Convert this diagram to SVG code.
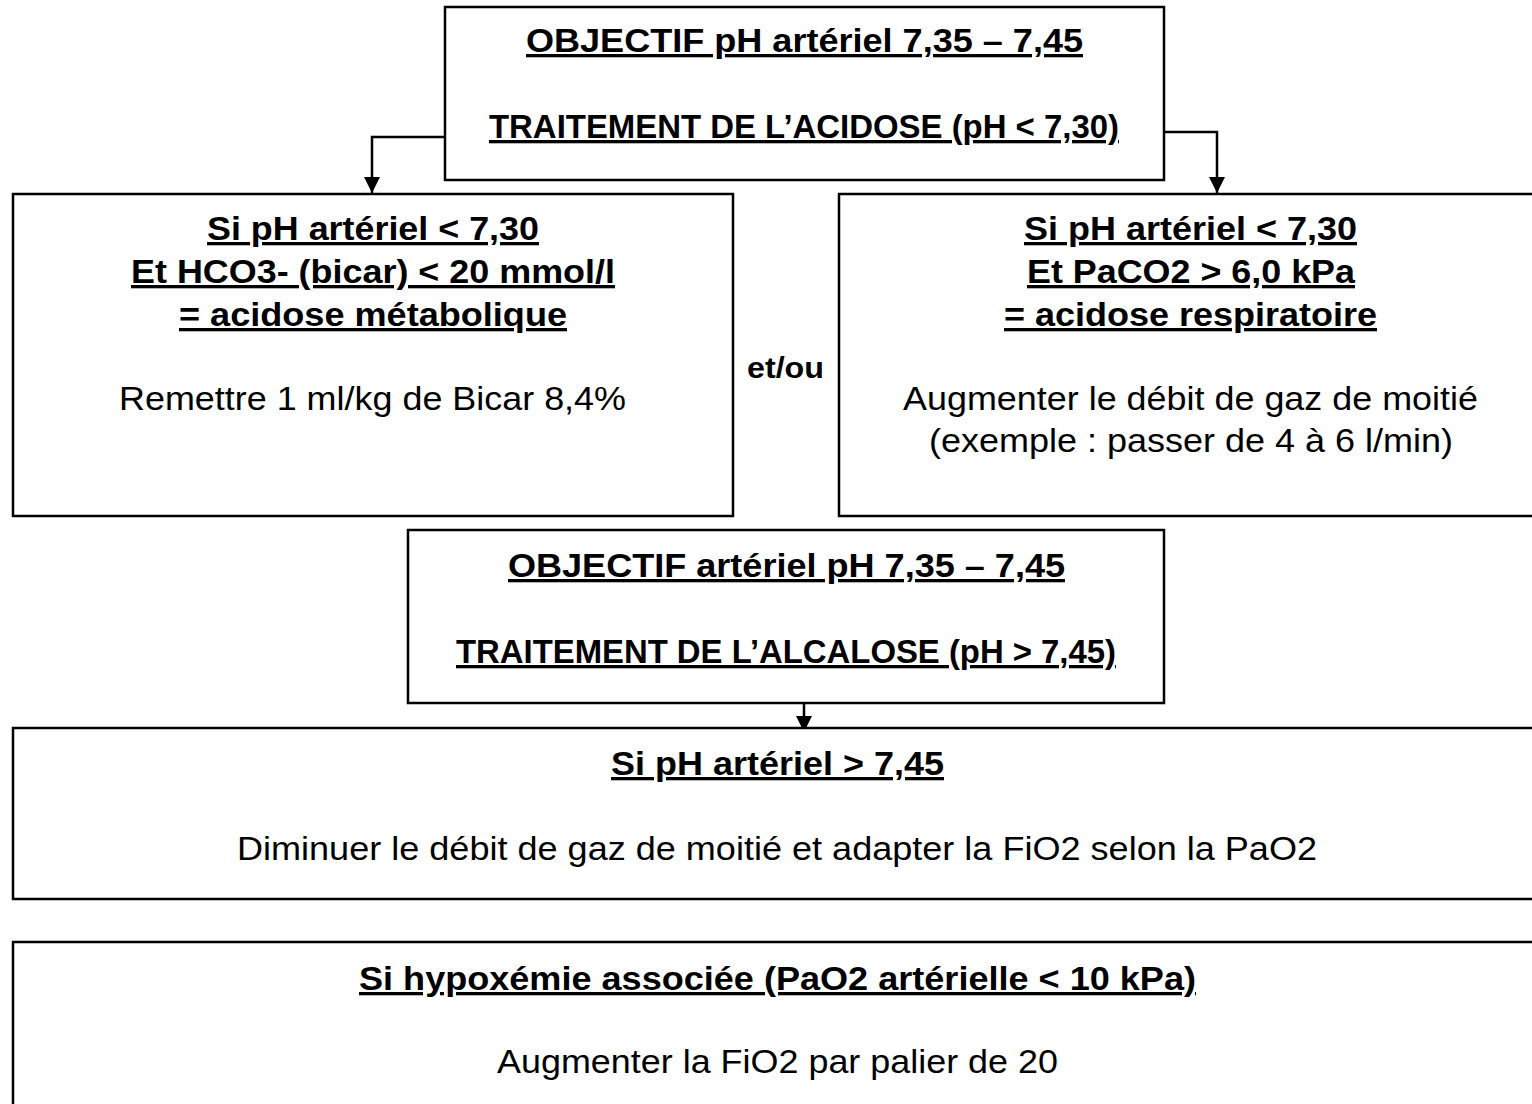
<svg xmlns="http://www.w3.org/2000/svg" width="1532" height="1104" viewBox="0 0 1532 1104">
<defs>
<marker id="ah" viewBox="0 0 10 10" refX="10" refY="5" markerWidth="16" markerHeight="16" markerUnits="userSpaceOnUse" orient="auto">
<path d="M0,0 L10,5 L0,10 z" fill="#000"/>
</marker>
<style>
.box{fill:#fff;stroke:#000;stroke-width:2.5}
.h{font-family:"Liberation Sans",Arial,sans-serif;font-weight:bold;font-size:33px;text-decoration:underline;text-anchor:middle;fill:#000}
.t{font-family:"Liberation Sans",Arial,sans-serif;font-size:33px;text-anchor:middle;fill:#000}
.b{font-family:"Liberation Sans",Arial,sans-serif;font-weight:bold;font-size:30px;text-anchor:middle;fill:#000}
.c{fill:none;stroke:#000;stroke-width:2.5}
</style>
</defs>
<rect width="1532" height="1104" fill="#fff"/>
<g id="connectors">
<path class="c" d="M445,137 H372 V193" marker-end="url(#ah)"/>
<path class="c" d="M1164,132 H1217 V193" marker-end="url(#ah)"/>
<path class="c" d="M804,691 V732" marker-end="url(#ah)"/>
</g>
<g id="acidose">
<rect class="box" x="445" y="7" width="719" height="173"/>
<text class="h" x="804.5" y="52" textLength="557" lengthAdjust="spacingAndGlyphs">OBJECTIF pH artériel 7,35 – 7,45</text>
<text class="h" x="804" y="138" textLength="630" lengthAdjust="spacingAndGlyphs">TRAITEMENT DE L’ACIDOSE (pH &lt; 7,30)</text>
</g>
<g id="metabolique">
<rect class="box" x="13" y="194" width="720" height="322"/>
<text class="h" x="373" y="240" textLength="332" lengthAdjust="spacingAndGlyphs">Si pH artériel &lt; 7,30</text>
<text class="h" x="373" y="283" textLength="484" lengthAdjust="spacingAndGlyphs">Et HCO3- (bicar) &lt; 20 mmol/l</text>
<text class="h" x="373" y="326" textLength="388" lengthAdjust="spacingAndGlyphs">= acidose métabolique</text>
<text class="t" x="372.5" y="410" textLength="507" lengthAdjust="spacingAndGlyphs">Remettre 1 ml/kg de Bicar 8,4%</text>
</g>
<g id="etou">
<text class="b" x="785.5" y="378" textLength="77" lengthAdjust="spacingAndGlyphs">et/ou</text>
</g>
<g id="respiratoire">
<rect class="box" x="839" y="194" width="710" height="322"/>
<text class="h" x="1190.5" y="240" textLength="333" lengthAdjust="spacingAndGlyphs">Si pH artériel &lt; 7,30</text>
<text class="h" x="1191" y="283" textLength="328" lengthAdjust="spacingAndGlyphs">Et PaCO2 &gt; 6,0 kPa</text>
<text class="h" x="1190.5" y="326" textLength="373" lengthAdjust="spacingAndGlyphs">= acidose respiratoire</text>
<text class="t" x="1190.5" y="410" textLength="575" lengthAdjust="spacingAndGlyphs">Augmenter le débit de gaz de moitié</text>
<text class="t" x="1191" y="452" textLength="524" lengthAdjust="spacingAndGlyphs">(exemple : passer de 4 à 6 l/min)</text>
</g>
<g id="alcalose">
<rect class="box" x="408" y="530" width="756" height="173"/>
<text class="h" x="786.5" y="577" textLength="557" lengthAdjust="spacingAndGlyphs">OBJECTIF artériel pH 7,35 – 7,45</text>
<text class="h" x="786" y="663" textLength="660" lengthAdjust="spacingAndGlyphs">TRAITEMENT DE L’ALCALOSE (pH &gt; 7,45)</text>
</g>
<g id="alcalose-action">
<rect class="box" x="13" y="728" width="1536" height="171"/>
<text class="h" x="777.5" y="775" textLength="333" lengthAdjust="spacingAndGlyphs">Si pH artériel &gt; 7,45</text>
<text class="t" x="777" y="860" textLength="1080" lengthAdjust="spacingAndGlyphs">Diminuer le débit de gaz de moitié et adapter la FiO2 selon la PaO2</text>
</g>
<g id="hypoxemie">
<rect class="box" x="13" y="942" width="1536" height="180"/>
<text class="h" x="777.5" y="990" textLength="837" lengthAdjust="spacingAndGlyphs">Si hypoxémie associée (PaO2 artérielle &lt; 10 kPa)</text>
<text class="t" x="777.5" y="1073" textLength="561" lengthAdjust="spacingAndGlyphs">Augmenter la FiO2 par palier de 20</text>
</g>
</svg>
